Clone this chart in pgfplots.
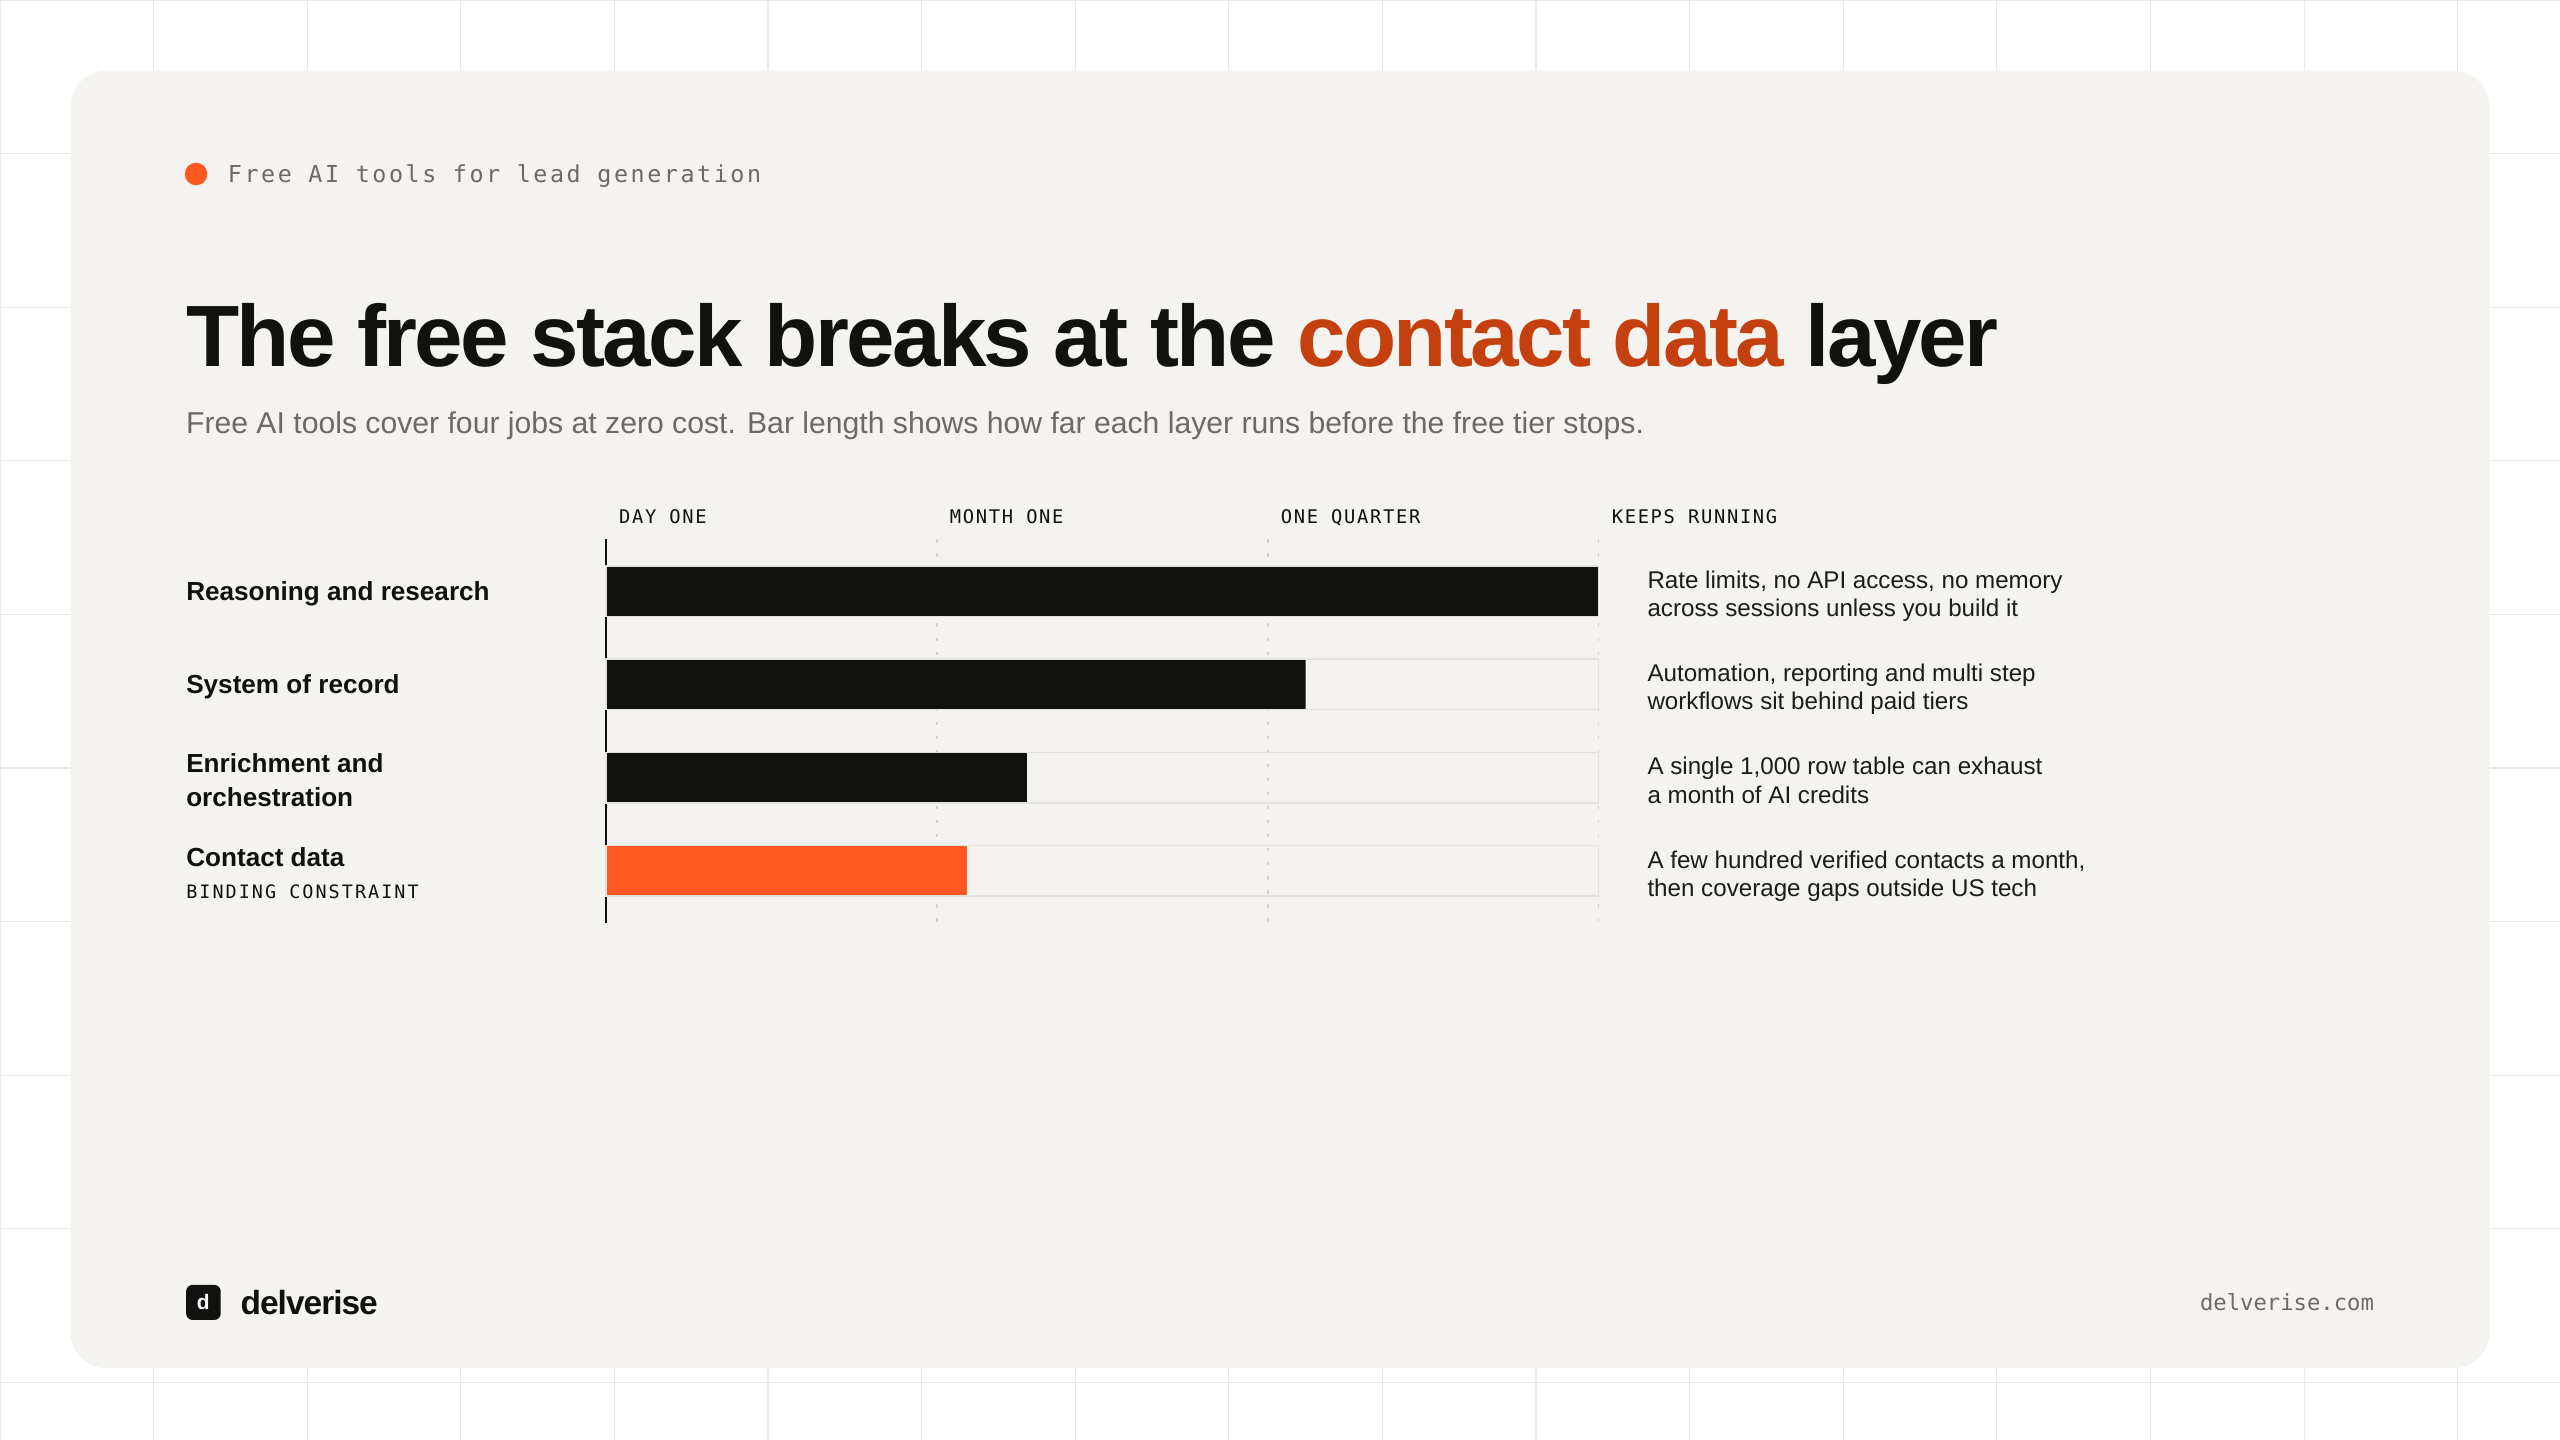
\documentclass[border=0pt]{standalone}
\usepackage{fontspec}
\usepackage{graphicx}
\usepackage{pgfplots}
\pgfplotsset{compat=1.18}
\setmainfont{Liberation Sans}
\newfontfamily\titlefam{Liberation Sans}[LetterSpace=-3]
\newfontfamily\brandfam{Liberation Sans}[LetterSpace=-3]
\newfontfamily\monofam{DejaVu Sans Mono}
\newfontfamily\monols{DejaVu Sans Mono}[LetterSpace=9]
\newfontfamily\monolsb{DejaVu Sans Mono}[LetterSpace=11]
\newfontfamily\monohead{DejaVu Sans Mono}[LetterSpace=11]
\definecolor{ink}{HTML}{111110}
\definecolor{inktext}{HTML}{1C1C1A}
\definecolor{accent}{HTML}{C4410F}
\definecolor{hot}{HTML}{FF5722}
\definecolor{muted}{HTML}{6B6A66}
\definecolor{panel}{HTML}{F4F3EF}
\definecolor{gridc}{HTML}{EAE9E4}
\definecolor{trackc}{HTML}{E4E3DE}
\definecolor{dashc}{HTML}{D3D2CD}
\begin{document}
\begin{tikzpicture}[x=1pt,y=1pt, every node/.style={inner sep=0pt, outer sep=0pt}]
\useasboundingbox (0,0) rectangle (1568,882);
\fill[white] (0,0) rectangle (1568,882);
\begin{scope}
\clip (0,0) rectangle (1568,882);
\foreach \k in {0,...,16} \draw[gridc, line width=0.65pt] (\k*94.08,0) -- (\k*94.08,882);
\foreach \k in {0,...,9} \draw[gridc, line width=0.65pt] (0,882-\k*94.08) -- (1568,882-\k*94.08);
\end{scope}
\fill[panel, rounded corners=22pt] (43.2,44) rectangle (1524.8,838.7);
% header
\fill[hot] (120.1,775.4) circle (6.9);
\node[anchor=base west, text=muted] at (139.6,770.1) {\monohead\fontsize{14.3}{17}\selectfont Free AI tools for lead generation};
% title
\node[anchor=base west] at (114,657.4) {\resizebox{1110pt}{!}{\titlefam\bfseries\fontsize{54.2}{60}\selectfont\color{ink}The free stack breaks at the \textcolor{accent}{contact data} layer}};
\node[anchor=base west] at (114,616.4) {\resizebox{893pt}{!}{\fontsize{16.5}{20}\selectfont\color{muted}Free AI tools cover four jobs at zero cost. Bar length shows how far each layer runs before the free tier stops.}};
% footer
\fill[ink, rounded corners=4pt] (114,73.5) rectangle (135.2,95);
\node[anchor=base, text=white] at (124.5,79.7) {\bfseries\fontsize{12.8}{14}\selectfont d};
\node[anchor=base west, text=ink] at (147.4,76.6) {\brandfam\bfseries\fontsize{20.5}{24}\selectfont delverise};
\node[anchor=base east, text=muted] at (1454,79.6) {\monofam\fontsize{13.6}{16}\selectfont delverise.com};
% chart
\begin{axis}[
  at={(371.2pt,551.7pt)}, anchor=north west,
  scale only axis, width=608pt, height=235.2pt,
  xmin=0, xmax=3, ymin=-0.557, ymax=3.562, y dir=reverse,
  clip=false,
  axis x line*=top, axis y line*=left,
  x axis line style={draw=none},
  y axis line style={draw=ink, line width=1.3pt},
  xtick={0,1,2,3},
  xticklabels={DAY ONE, MONTH ONE, ONE QUARTER, KEEPS RUNNING},
  xticklabel style={anchor=base west, inner sep=0pt, xshift=8pt, yshift=9.8pt, text=ink, font=\monols\fontsize{11.5}{13}\selectfont},
  ytick={0,1,2,3},
  yticklabels={{Reasoning and research},{System of record},{Enrichment and\\orchestration},{Contact data\\[-0.8pt]{\monolsb\fontsize{11.3}{13}\selectfont\mdseries BINDING CONSTRAINT}}},
  yticklabel style={anchor=west, align=left, inner sep=0pt, xshift=-257.1pt, yshift=-1.5pt, text=ink, font=\bfseries\fontsize{16}{20.4}\selectfont},
  major tick length=0pt, tick style={draw=none},
  xmajorgrids, grid style={dashc, line width=0.9pt, dash pattern=on 2pt off 6.6pt},
]
\addplot[xbar, bar width=31pt, bar shift=0pt, draw=none, fill=ink] coordinates {(3,0) (2.114,1) (1.272,2)};
\addplot[xbar, bar width=31pt, bar shift=0pt, draw=none, fill=hot] coordinates {(1.092,3)};
\addplot[xbar, bar width=31pt, bar shift=0pt, draw=trackc, line width=0.9pt, fill=none] coordinates {(3,0) (3,1) (3,2) (3,3)};
\begin{scope}[every node/.style={anchor=base west, inner sep=0pt, text=inktext, font=\fontsize{14.8}{17}\selectfont}]
\node[xshift=29.7pt, yshift=1.7pt] at (axis cs:3,0) {Rate limits, no API access, no memory};
\node[xshift=29.7pt, yshift=-15.6pt] at (axis cs:3,0) {across sessions unless you build it};
\node[xshift=29.7pt, yshift=1.7pt] at (axis cs:3,1) {Automation, reporting and multi step};
\node[xshift=29.7pt, yshift=-15.6pt] at (axis cs:3,1) {workflows sit behind paid tiers};
\node[xshift=29.7pt, yshift=1.7pt] at (axis cs:3,2) {A single 1,000 row table can exhaust};
\node[xshift=29.7pt, yshift=-15.6pt] at (axis cs:3,2) {a month of AI credits};
\node[xshift=29.7pt, yshift=1.7pt] at (axis cs:3,3) {A few hundred verified contacts a month,};
\node[xshift=29.7pt, yshift=-15.6pt] at (axis cs:3,3) {then coverage gaps outside US tech};
\end{scope}
\end{axis}
\end{tikzpicture}
\end{document}
